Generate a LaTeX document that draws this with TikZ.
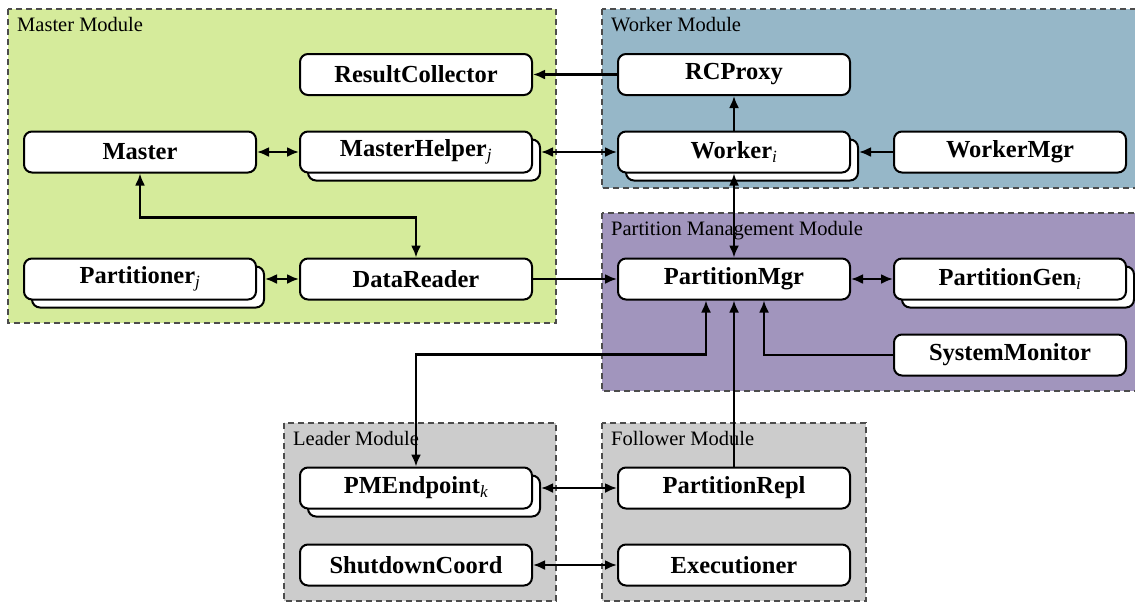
\documentclass[tikz,border=0pt]{standalone}
\usepackage{fontspec}
\setmainfont{Liberation Serif}
\usetikzlibrary{arrows.meta,shadows}
\definecolor{mastergreen}{RGB}{213,235,155}
\definecolor{workerblue}{RGB}{150,183,200}
\definecolor{pmpurple}{RGB}{161,149,189}
\definecolor{modgray}{RGB}{204,204,204}
\begin{document}
\begin{tikzpicture}[x=1pt,y=-1pt,
  modbox/.style={draw=black!70, dash pattern=on 6pt off 4pt, line width=1.2pt},
  modlabel/.style={anchor=north west, inner sep=0pt, font=\fontsize{20.5}{24}\selectfont},
  comp/.style={draw=black, fill=white, line width=2pt, rounded corners=8pt,
    minimum width=232pt, minimum height=41pt, inner sep=0pt,
    font=\fontsize{24.5}{28}\selectfont\bfseries},
  multi/.style={comp, copy shadow={shadow xshift=8pt, shadow yshift=-8pt}},
  conn/.style={line width=2.2pt, -{Latex[length=12pt,width=10pt]}},
  biconn/.style={line width=2.2pt, {Latex[length=12pt,width=10pt]}-{Latex[length=12pt,width=10pt]}}
]
\clip (0,0) rectangle (1135,603);
% modules
\draw[modbox, fill=mastergreen] (8,9) rectangle (556,323);
\draw[modbox, fill=workerblue] (602,9) rectangle (1150,188);
\draw[modbox, fill=pmpurple] (602,213) rectangle (1150,391);
\draw[modbox, fill=modgray] (284,423) rectangle (556,601);
\draw[modbox, fill=modgray] (602,423) rectangle (866,601);
\node[modlabel] (lm) at (17,17) {Master Module};
\node[modlabel] (lw) at (611,17) {Worker Module};
\node[modlabel] (lp) at (611,221) {Partition Management Module};
\node[modlabel] (ll) at (293,431) {Leader Module};
\node[modlabel] (lf) at (611,431) {Follower Module};
% components
\node[comp] (rc) at (416,74.5) {ResultCollector};
\node[comp] (ma) at (140,152) {Master};
\node[multi] (mh) at (416,152) {MasterHelper\textsubscript{\mdseries\itshape j}};
\node[multi] (pa) at (140,279) {Partitioner\textsubscript{\mdseries\itshape j}};
\node[comp] (dr) at (416,279) {DataReader};
\node[comp] (rcp) at (734,74.5) {RCProxy};
\node[multi] (wk) at (734,152) {Worker\textsubscript{\mdseries\itshape i}};
\node[comp] (wm) at (1010,152) {WorkerMgr};
\node[comp] (pm) at (734,279) {PartitionMgr};
\node[multi] (pg) at (1010,279) {PartitionGen\textsubscript{\mdseries\itshape i}};
\node[comp] (sm) at (1010,355) {SystemMonitor};
\node[multi] (pe) at (416,488) {PMEndpoint\textsubscript{\mdseries\itshape k}};
\node[comp] (pr) at (734,488) {PartitionRepl};
\node[comp] (sd) at (416,565) {ShutdownCoord};
\node[comp] (ex) at (734,565) {Executioner};
% connectors
\draw[conn] (rcp.west) -- (rc.east);
\draw[conn] (wk.north) -- (rcp.south);
\draw[biconn] (ma.east) -- (mh.west);
\draw[biconn] ([xshift=8pt]mh.east) -- (wk.west);
\draw[conn] (wm.west) -- ([xshift=8pt]wk.east);
\draw[biconn] (ma.south) -- ++(0,44) -| (dr.north);
\draw[biconn] ([xshift=8pt]pa.east) -- (dr.west);
\draw[conn] (dr.east) -- (pm.west);
\draw[biconn] (wk.south) -- (pm.north);
\draw[biconn] (pm.east) -- (pg.west);
\draw[conn] (sm.west) -| ([xshift=30pt]pm.south);
\draw[biconn] (pe.north) -- ++(0,-112) -| ([xshift=-28pt]pm.south);
\draw[conn] (pr.north) -- (pm.south);
\draw[biconn] ([xshift=8pt]pe.east) -- (pr.west);
\draw[biconn] (sd.east) -- (ex.west);
\end{tikzpicture}
\end{document}
